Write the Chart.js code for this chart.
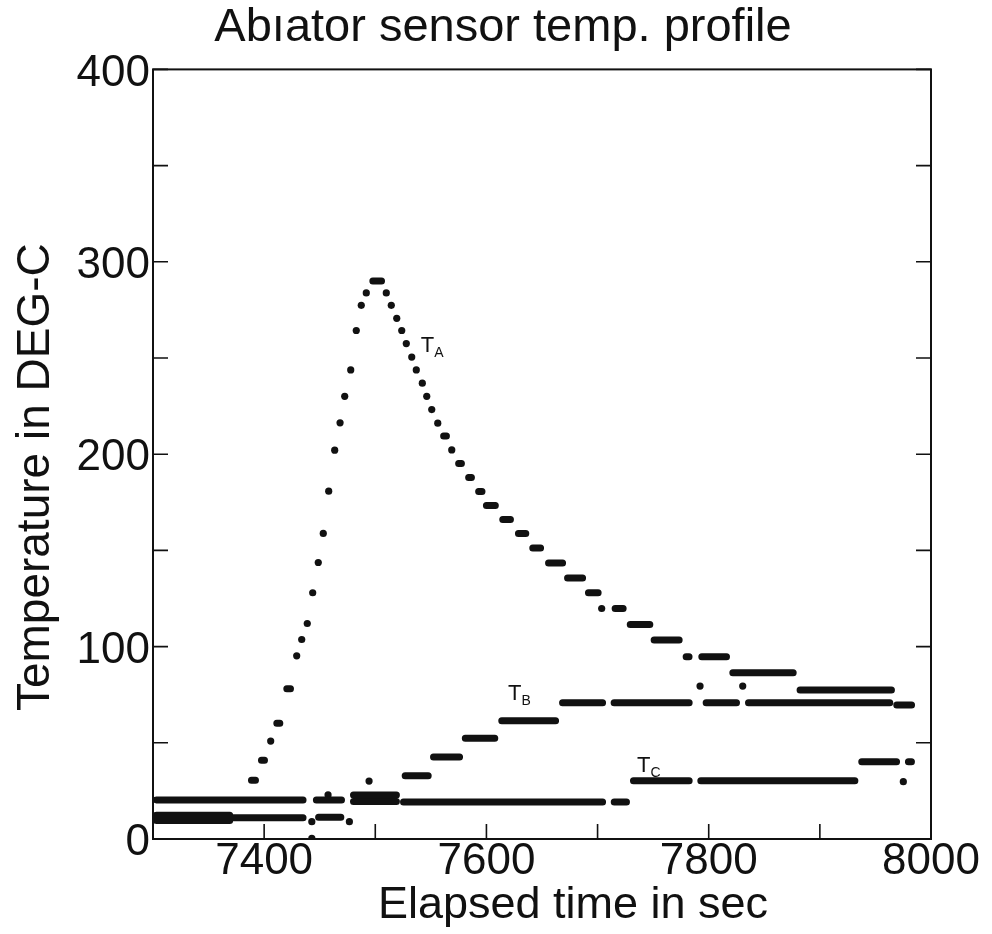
<!DOCTYPE html>
<html>
<head>
<meta charset="utf-8">
<script src="https://cdn.jsdelivr.net/npm/chart.js@4"></script>
<style>
  html, body { margin: 0; background: #fff; }
</style>
</head>
<body>
<canvas id="chart" width="992" height="934"></canvas>
<script>
const xTickLabels = [7400, 7600, 7800, 8000];
const yTickLabels = [0, 100, 200, 300, 400];

// single readings: [time, temp]
const taDots = [
  [7405.9, 50.9], [7429.3, 95.2], [7433.8, 103.7], [7438.8, 112], [7443.7, 128],
  [7448.7, 143.7], [7453.2, 158.8], [7458.1, 180.8], [7463.5, 202.1], [7468.3, 216.3],
  [7472.5, 230.1], [7477.9, 243.8], [7482.9, 264.3], [7487.4, 277.4], [7491.9, 283.8],
  [7509.9, 283.8], [7514.4, 277.4], [7519.3, 270.6], [7523.8, 264.3], [7527.9, 257.5],
  [7532.8, 250.5], [7536.9, 243.8], [7542.3, 236.9], [7546.3, 230.1], [7550.8, 223.2],
  [7556.2, 216.1], [7568.8, 202.2], [7703.7, 119.8], [7792.2, 79.5], [7830.6, 79.5]
];
const tbDots = [[7442.9, 9.0], [7442.9, 0.4], [7476.7, 9.0], [7494.4, 30.1]];
const tcDots = [[7457.5, 22.9], [7975.1, 29.8]];

// runs of readings at one level: [from, to, temp]
const taRuns = [
  [7388.6, 7392.2, 30.6], [7397.6, 7400.3, 40.9], [7411.4, 7414.1, 60.1], [7420.4, 7423.7, 78.1],
  [7497.8, 7505.6, 290], [7561.5, 7564, 209.4], [7575, 7577.5, 195.2], [7584, 7586.5, 187.9],
  [7593, 7596, 180.6], [7600, 7608, 173.4], [7614.7, 7621.6, 166.1], [7628.8, 7635.4, 158.8],
  [7641.7, 7648.7, 151.3], [7655.9, 7668.5, 143.5], [7673, 7686.5, 135.7], [7691.8, 7700.5, 128],
  [7715.8, 7723, 119.8], [7729.4, 7747, 111.5], [7750.9, 7773.4, 103.4], [7779.7, 7782.3, 94.7],
  [7793.8, 7816, 94.7], [7821.7, 7876, 86.4], [7882.2, 7964.4, 77.4]
];
const tbRuns = [
  [7303, 7369, 12.3], [7303, 7369, 9.6], [7368, 7435, 11], [7449, 7469, 11.3],
  [7480.4, 7519, 22.9], [7526.9, 7547.6, 32.9], [7552.4, 7575.8, 42.6], [7581, 7607.5, 52.3],
  [7613.8, 7662.2, 61.5], [7668.5, 7704.5, 70.8], [7714.9, 7782.4, 70.8], [7797.7, 7825, 70.8],
  [7835.8, 7962.9, 70.8], [7969.2, 7982.5, 69.6]
];
const tcRuns = [
  [7303, 7435, 20.3], [7447, 7469.6, 20.3], [7480.4, 7519, 19.5], [7525.4, 7704.5, 19.2],
  [7715, 7726, 19.2], [7732.3, 7782.4, 30.3], [7792.9, 7931.5, 30.3], [7937.7, 7969, 40.2],
  [7979.7, 7982.4, 40.2]
];

// curve labels: [main, subscript, time, temp]
const curveLabels = [
  ['T', 'A', 7541, 253],
  ['T', 'B', 7619.4, 72.2],
  ['T', 'C', 7735.5, 34.8]
];

const FONT = "'Liberation Sans', Arial, sans-serif";
const INK = '#111';
const xTitle = 'Elapsed time in sec';
const yTitle = 'Temperature in DEG-C';

function dotSet(dots) {
  return {
    data: dots.map(([x, y]) => ({ x, y })),
    pointRadius: 3.6,
    pointBackgroundColor: INK,
    pointBorderWidth: 0,
    showLine: false
  };
}

function runSet(runs) {
  const data = [];
  runs.forEach(([a, b, y]) => {
    data.push({ x: a, y }, { x: b, y }, { x: b, y: null });
  });
  return {
    data,
    showLine: true,
    spanGaps: false,
    borderColor: INK,
    borderWidth: 7,
    borderCapStyle: 'round',
    borderJoinStyle: 'round',
    pointRadius: 0
  };
}

/* ---------- frame, inward ticks, axis titles, curve labels ---------- */
const framePlugin = {
  id: 'frame',
  afterDatasetsDraw(chart) {
    const { ctx, chartArea: a, scales: { x, y } } = chart;
    ctx.save();
    ctx.strokeStyle = INK;
    ctx.lineWidth = 2;
    ctx.strokeRect(a.left, a.top, a.right - a.left, a.bottom - a.top);
    ctx.lineWidth = 1.6;
    ctx.beginPath();
    x.ticks.forEach(t => {
      const px = x.getPixelForValue(t.value);
      ctx.moveTo(px, a.bottom);
      ctx.lineTo(px, a.bottom - 15);
    });
    y.ticks.forEach(t => {
      const py = y.getPixelForValue(t.value);
      ctx.moveTo(a.left, py);
      ctx.lineTo(a.left + 15, py);
      ctx.moveTo(a.right, py);
      ctx.lineTo(a.right - 15, py);
    });
    ctx.stroke();

    ctx.fillStyle = INK;
    ctx.textBaseline = 'alphabetic';
    ctx.textAlign = 'left';
    curveLabels.forEach(([main, sub, t, v]) => {
      const px = x.getPixelForValue(t);
      const py = y.getPixelForValue(v);
      ctx.font = '22px ' + FONT;
      ctx.fillText(main, px, py);
      const w = ctx.measureText(main).width;
      ctx.font = '14px ' + FONT;
      ctx.fillText(sub, px + w, py + 5);
    });

    // axis titles sit a little right of / below the plot centre in the original
    ctx.textAlign = 'center';
    ctx.textBaseline = 'middle';
    ctx.font = '45px ' + FONT;
    ctx.fillText(xTitle, (a.left + a.right) / 2 + 31, a.bottom + 67);
    ctx.translate(36, (a.top + a.bottom) / 2 + 23);
    ctx.rotate(-Math.PI / 2);
    ctx.font = '46px ' + FONT;
    ctx.fillText(yTitle, 0, 0);
    ctx.restore();
  }
};

const chart = new Chart(document.getElementById('chart'), {
  type: 'scatter',
  data: {
    datasets: [
      runSet(taRuns), runSet(tbRuns), runSet(tcRuns),
      dotSet(taDots), dotSet(tbDots), dotSet(tcDots)
    ]
  },
  options: {
    responsive: false,
    animation: false,
    layout: { padding: { left: 14, right: 0, top: 0, bottom: 0 } },
    plugins: {
      legend: { display: false },
      tooltip: { enabled: false },
      title: {
        display: true,
        text: 'Abıator sensor temp. profile',
        color: INK,
        font: { family: FONT, size: 47, weight: 'normal' },
        padding: { top: 0, bottom: 13 }
      }
    },
    scales: {
      x: {
        type: 'linear',
        min: 7300,
        max: 8000,
        grid: { display: false, drawTicks: false },
        border: { display: false },
        ticks: {
          stepSize: 100,
          autoSkip: false,
          maxRotation: 0,
          padding: -4,
          color: INK,
          font: { family: FONT, size: 44 },
          callback: v => xTickLabels.includes(v) ? String(v) : ''
        },
        afterFit: s => { s.height = 95; }
      },
      y: {
        min: 0,
        max: 400,
        grid: { display: false, drawTicks: false },
        border: { display: false },
        ticks: {
          stepSize: 50,
          autoSkip: false,
          padding: 3,
          labelOffset: 4,
          color: INK,
          font: { family: FONT, size: 44 },
          callback: v => yTickLabels.includes(v) ? String(v) : ''
        },
        afterFit: s => { s.width = 139; }
      },
      // empty right-hand box: keeps the plot's right edge where the original has it
      yRight: {
        position: 'right',
        min: 0,
        max: 400,
        grid: { display: false, drawTicks: false },
        border: { display: false },
        ticks: { display: false },
        afterFit: s => { s.width = 61; }
      }
    }
  },
  plugins: [framePlugin]
});
</script>
</body>
</html>
